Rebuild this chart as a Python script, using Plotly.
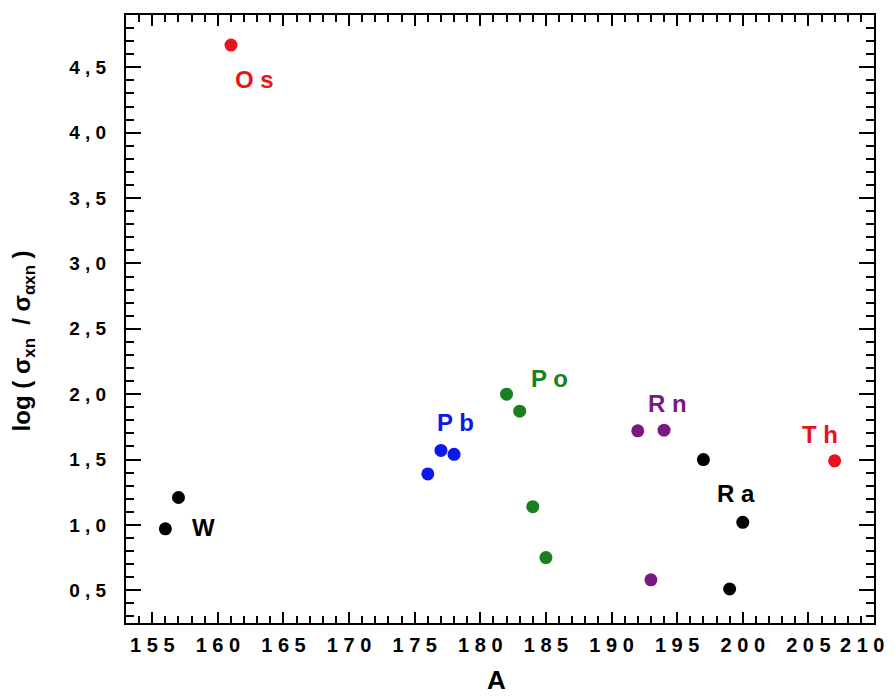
import plotly.graph_objects as go

# ---- data ----
W_A = [156, 157]
W_val = [0.97, 1.21]
Os_A = [161]
Os_val = [4.67]
Pb_A = [176, 177, 178]
Pb_val = [1.39, 1.57, 1.54]
Po_A = [182, 183, 184, 185]
Po_val = [2.00, 1.87, 1.14, 0.75]
Rn_A = [192, 193, 194]
Rn_val = [1.72, 0.58, 1.725]
Ra_A = [197, 199, 200]
Ra_val = [1.50, 0.51, 1.02]
Th_A = [207]
Th_val = [1.49]

x_tickvals = [155, 160, 165, 170, 175, 180, 185, 190, 195, 200, 205, 210]
x_ticktext = ["1 5 5", "1 6 0", "1 6 5", "1 7 0", "1 7 5", "1 8 0",
              "1 8 5", "1 9 0", "1 9 5", "2 0 0", "2 0 5", "2 1 0"]
y_tickvals = [0.5, 1.0, 1.5, 2.0, 2.5, 3.0, 3.5, 4.0, 4.5]
y_ticktext = ["0 , 5", "1 , 0", "1 , 5", "2 , 0", "2 , 5", "3 , 0",
              "3 , 5", "4 , 0", "4 , 5"]

series = [
    ("W", W_A, W_val, "#000000", "W", 158.9, 0.98),
    ("Os", Os_A, Os_val, "#e8141b", "O s", 162.8, 4.41),
    ("Pb", Pb_A, Pb_val, "#0b1ae8", "P b", 178.1, 1.78),
    ("Po", Po_A, Po_val, "#1a7f1f", "P o", 185.3, 2.12),
    ("Rn", Rn_A, Rn_val, "#7a1a7e", "R n", 194.3, 1.93),
    ("Ra", Ra_A, Ra_val, "#000000", "R a", 199.5, 1.24),
    ("Th", Th_A, Th_val, "#e8141b", "T h", 205.85, 1.69),
]

FONT = "Liberation Sans, Arial, sans-serif"

fig = go.Figure()
annotations = []
for name, xs, ys, color, label, lx, ly in series:
    fig.add_trace(go.Scatter(
        x=xs, y=ys, mode="markers", name=name,
        marker=dict(color=color, size=13, line=dict(width=0)),
        showlegend=False,
    ))
    annotations.append(dict(
        x=lx, y=ly, xref="x", yref="y", text="<b>" + label + "</b>",
        showarrow=False, font=dict(family=FONT, size=24, color=color),
        xanchor="center", yanchor="middle",
    ))

annotations.append(dict(
    x=-0.137, y=0.464, xref="paper", yref="paper",
    text="<b>log ( σ<sub>xn</sub>  / σ<sub>αxn</sub> )</b>",
    textangle=-90, showarrow=False,
    font=dict(family=FONT, size=24, color="#000000"),
    xanchor="center", yanchor="middle",
))
annotations.append(dict(
    x=0.495, y=-0.094, xref="paper", yref="paper",
    text="<b>A</b>", showarrow=False,
    font=dict(family=FONT, size=26, color="#000000"),
    xanchor="center", yanchor="middle",
))
# last x tick label sits at the right edge of the window: drawn as text
annotations.append(dict(
    x=1.0, y=-0.037, xref="paper", yref="paper", xshift=12,
    text="<b>" + x_ticktext[-1] + "</b>", showarrow=False,
    font=dict(family=FONT, size=20, color="#000000"),
    xanchor="right", yanchor="middle",
))

axis_common = dict(
    showline=True, linecolor="#000000", linewidth=2, mirror="allticks",
    ticks="inside", tickwidth=2, tickcolor="#000000",
    showgrid=False, zeroline=False, automargin=False,
)

x_labels = ["<b>" + t + "</b>" for t in x_ticktext[:-1]] + [""]

# the page adds an 8px body margin; the figure is sized so that no scrollbar appears
fig.update_layout(
    width=879, height=684,
    margin=dict(l=118, r=13, t=7, b=69, autoexpand=False),
    paper_bgcolor="white", plot_bgcolor="white",
    annotations=annotations,
    xaxis=dict(
        range=[153, 210], tickmode="array", tickvals=x_tickvals,
        ticktext=x_labels,
        ticklen=11, ticklabelstandoff=3,
        tickfont=dict(family=FONT, size=20, color="#000000"),
        minor=dict(ticks="inside", dtick=1, ticklen=7, tickwidth=2,
                   tickcolor="#000000", showgrid=False),
        **axis_common,
    ),
    yaxis=dict(
        range=[0.25, 4.9], tickmode="array", tickvals=y_tickvals,
        ticktext=["<b>" + t + "</b>" for t in y_ticktext],
        ticklen=15, ticklabelstandoff=14,
        tickfont=dict(family=FONT, size=19, color="#000000"),
        minor=dict(ticks="inside", dtick=0.1, tick0=0, ticklen=8, tickwidth=2,
                   tickcolor="#000000", showgrid=False),
        **axis_common,
    ),
)

fig.write_html("out.html")
